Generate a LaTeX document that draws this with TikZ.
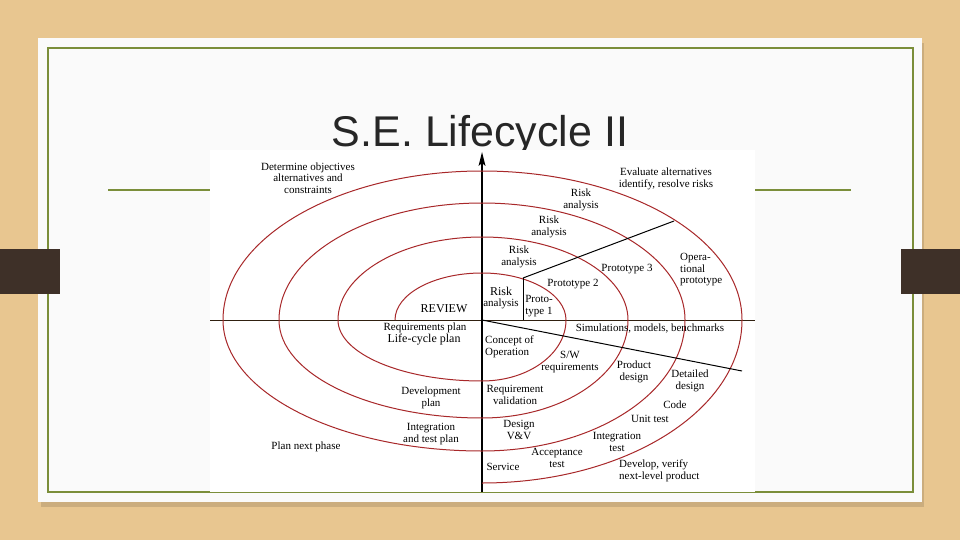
\documentclass[tikz,border=0pt]{standalone}
\usepackage{fontspec}
\setmainfont{Liberation Serif}
\newfontfamily\titlefont{Liberation Sans}
\definecolor{wood}{HTML}{E8C690}
\definecolor{panel}{HTML}{FAFAFA}
\definecolor{olive}{HTML}{7B8E3A}
\definecolor{tabbrown}{HTML}{3E3028}
\definecolor{spiralred}{HTML}{A8282A}
\begin{document}
\begin{tikzpicture}[x=1pt,y=-1pt]
\tikzstyle{every node}+=[inner sep=0pt]
\tikzstyle{lbl}=[font=\fontsize{11}{11.5}\selectfont,align=center]
\tikzstyle{biglbl}=[font=\fontsize{12}{13}\selectfont,align=center]
\useasboundingbox (0,0) rectangle (960,540);
% slide
\fill [wood] (0,0) rectangle (960,540);
\fill [black,opacity=0.12] (41,43) rectangle (924,507);
\fill [panel] (38,38) rectangle (922,502);
\draw [olive,line width=2.5] (48,48) rectangle (913,492);
\draw [olive,line width=2.5] (108,190) -- (851,190);
\fill [tabbrown] (0,249) rectangle (60,294);
\fill [tabbrown] (901,249) rectangle (960,294);
\node (title) at (480,147) [anchor=base,text=black!85,font=\titlefont\fontsize{43}{43}\selectfont] {S.E. Lifecycle II};
% spiral picture
\fill [white] (210,150) rectangle (755,492);
\draw [black!75!brown,line width=0.8] (210,320) -- (755,320);
\draw [black,line width=1.2] (482,492) -- (482,160);
\fill [black] (482,152) -- (478.5,166) -- (482,163) -- (485.5,166) -- cycle;
\begin{scope}[shift={(482,320)},y=1pt]
\draw [spiralred,line width=1] (-87,0)
  arc [start angle=180,end angle=90,x radius=87,y radius=47]
  arc [start angle=90,end angle=0,x radius=84,y radius=47]
  arc [start angle=0,end angle=-90,x radius=84,y radius=61]
  arc [start angle=-90,end angle=-180,x radius=144,y radius=61]
  arc [start angle=180,end angle=90,x radius=144,y radius=83]
  arc [start angle=90,end angle=0,x radius=146,y radius=83]
  arc [start angle=0,end angle=-90,x radius=146,y radius=98]
  arc [start angle=-90,end angle=-180,x radius=203,y radius=98]
  arc [start angle=180,end angle=90,x radius=203,y radius=117]
  arc [start angle=90,end angle=0,x radius=203,y radius=117]
  arc [start angle=0,end angle=-90,x radius=203,y radius=131]
  arc [start angle=-90,end angle=-180,x radius=259,y radius=131]
  arc [start angle=180,end angle=90,x radius=259,y radius=149]
  arc [start angle=90,end angle=0,x radius=260,y radius=149]
  arc [start angle=0,end angle=-90,x radius=260,y radius=163];
\end{scope}
\draw [black,line width=1] (482,320) -- (742,371);
\draw [black,line width=1] (523,278) -- (674,221);
\draw [black,line width=0.6] (523,278) -- (523,320);
% upper left
\node (detobj) at (308,178) [lbl] {Determine objectives\\alternatives and\\constraints};
\node (review) at (444,309) [biglbl] {REVIEW};
% upper right
\node (evalalt) at (666,179) [lbl] {Evaluate alternatives\\identify, resolve risks};
\node (risk4) at (581,200) [lbl] {Risk\\analysis};
\node (risk3) at (549,227) [lbl] {Risk\\analysis};
\node (risk2) at (519,257) [lbl] {Risk\\analysis};
\node (risk1) at (501,298) [lbl] {{\fontsize{12}{13}\selectfont Risk}\\analysis};
\node (proto1) at (539,306) [lbl] {Proto-\\type 1};
\node (proto2) at (573,284) [lbl] {Prototype 2};
\node (proto3) at (627,269) [lbl] {Prototype 3};
\node (opproto) at (680,270) [lbl,anchor=west,align=left] {Opera-\\tional\\prototype};
% lower right
\node (simmod) at (650,329) [lbl] {Simulations, models, benchmarks};
\node (concop) at (485,347) [lbl,anchor=west,align=left] {Concept of\\Operation};
\node (swreq) at (570,362) [lbl] {S/W\\requirements};
\node (proddes) at (634,372) [lbl] {Product\\design};
\node (detdes) at (690,381) [lbl] {Detailed\\design};
\node (reqval) at (515,395) [lbl] {Requirement\\validation};
\node (code) at (675,405) [lbl] {Code};
\node (unittest) at (650,419) [lbl] {Unit test};
\node (desvv) at (519,430) [lbl] {Design\\V\&V};
\node (inttest) at (617,442) [lbl] {Integration\\test};
\node (acctest) at (557,458) [lbl] {Acceptance\\test};
\node (service) at (503,467) [lbl] {Service};
\node (devver) at (619,471) [lbl,anchor=west,align=left] {Develop, verify\\next-level product};
% lower left
\node (reqplan) at (425,328) [lbl] {Requirements plan};
\node (lcplan) at (424,340) [biglbl] {Life-cycle plan};
\node (devplan) at (431,398) [lbl] {Development\\plan};
\node (itplan) at (431,434) [lbl] {Integration\\and test plan};
\node (nextph) at (306,447) [lbl] {Plan next phase};
\end{tikzpicture}
\end{document}
